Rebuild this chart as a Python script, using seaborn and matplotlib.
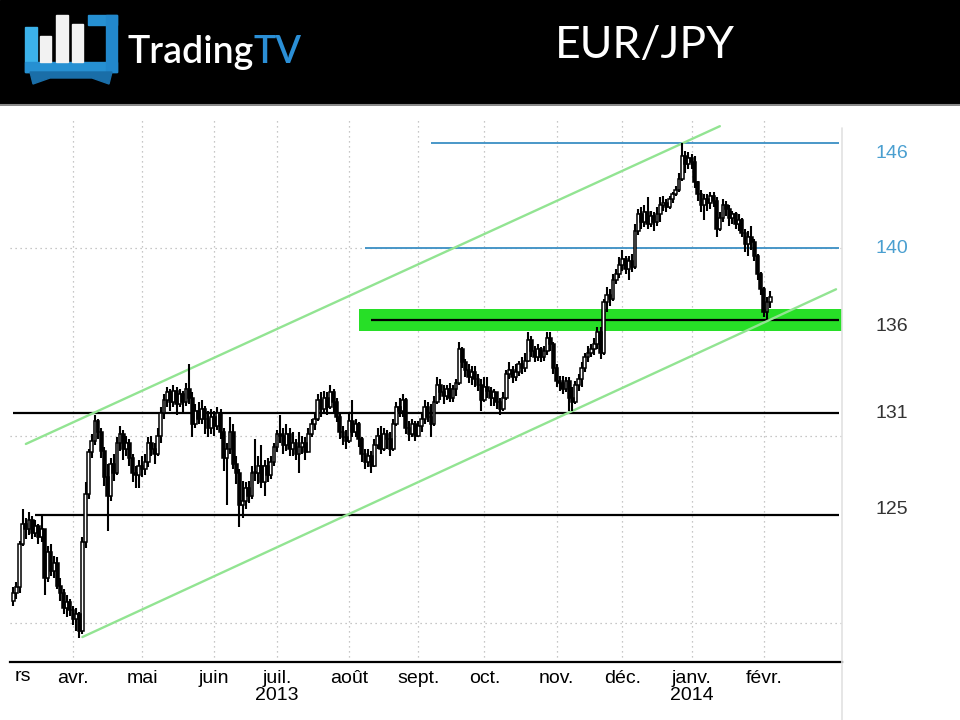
import numpy as np
import pandas as pd
import matplotlib
matplotlib.use("Agg")
import matplotlib.pyplot as plt
from matplotlib.patches import Rectangle, Polygon
from matplotlib.lines import Line2D
import seaborn as sns

# daily EUR/JPY bars, one per weekday, 5 Mar 2013 .. 5 Feb 2014
dates = pd.bdate_range("2013-03-05", "2014-02-05")
first_open = 121.2

closes = [
    121.6, 121.9, 124.2, 125.3, 125.0, 125.5, 124.8, 125.2, 124.6, 125.0, 122.4, 123.8,
    122.8, 123.2, 122.0, 121.6, 120.8, 121.1, 120.7, 120.2, 120.5, 119.6, 124.3, 126.9,
    129.1, 129.7, 130.8, 130.2, 129.2, 127.8, 126.8, 128.5, 128.0, 129.6, 130.1, 129.3,
    129.6, 128.8, 128.0, 127.9, 128.4, 128.2, 128.6, 129.6, 129.3, 129.0, 130.0, 131.2,
    131.9, 132.3, 131.8, 132.4, 131.7, 132.2, 131.8, 132.5, 132.0, 130.6, 131.3, 130.9,
    131.4, 130.9, 130.4, 131.0, 130.5, 131.2, 130.2, 128.8, 129.3, 130.2, 128.5, 128.0,
    126.3, 126.5, 127.2, 126.8, 128.0, 128.0, 128.4, 127.5, 128.4, 127.9, 128.6, 129.4,
    130.1, 130.0, 129.5, 130.1, 129.3, 129.6, 129.0, 129.4, 129.6, 129.1, 130.1, 130.6,
    130.9, 131.9, 131.4, 132.0, 131.5, 132.3, 131.8, 131.0, 130.2, 129.9, 129.7, 130.8,
    130.2, 130.6, 129.8, 129.0, 128.6, 128.9, 128.4, 129.5, 130.0, 129.3, 130.1, 129.8,
    129.3, 130.6, 131.5, 131.3, 131.9, 130.4, 130.1, 130.6, 130.0, 130.5, 130.9, 131.5,
    131.0, 130.6, 131.8, 132.7, 132.3, 132.1, 132.5, 132.0, 132.5, 132.8, 134.6, 133.9,
    133.5, 133.1, 133.4, 133.0, 132.7, 131.9, 132.6, 132.4, 132.0, 132.3, 131.8, 131.4,
    132.0, 133.3, 133.5, 133.1, 133.4, 133.8, 133.6, 134.0, 135.1, 134.5, 134.2, 134.6,
    134.2, 134.5, 135.2, 134.9, 133.6, 132.9, 132.8, 132.5, 132.9, 132.0, 131.8, 132.7,
    133.0, 133.6, 134.2, 134.4, 134.6, 134.9, 135.5, 134.4, 137.1, 137.5, 137.3, 138.3,
    138.6, 139.1, 139.4, 138.9, 139.3, 139.0, 140.9, 141.8, 141.4, 141.9, 141.3, 141.7,
    141.4, 141.8, 142.3, 142.4, 142.2, 142.6, 142.9, 143.1, 143.7, 144.9, 144.5, 144.8,
    144.6, 143.5, 142.9, 142.3, 142.6, 142.4, 142.8, 142.5, 141.0, 141.6, 142.3, 142.1,
    141.6, 141.8, 141.3, 141.5, 140.8, 140.2, 140.6, 140.3, 139.6, 138.6, 137.8, 136.6,
    137.1, 137.4,
]
highs = [
    121.9, 122.2, 124.4, 126.1, 125.6, 125.9, 125.7, 125.5, 125.3, 125.8, 124.5, 124.1,
    124.2, 123.6, 123.5, 122.4, 121.8, 121.5, 121.3, 120.9, 120.8, 120.6, 124.6, 127.5,
    129.3, 130.1, 131.1, 130.9, 130.4, 129.4, 128.5, 128.8, 129.0, 129.9, 130.5, 130.3,
    130.0, 129.8, 129.0, 128.4, 128.7, 128.9, 129.0, 129.9, 130.0, 129.6, 130.4, 131.5,
    132.2, 132.6, 132.5, 132.7, 132.6, 132.5, 132.4, 132.8, 133.8, 132.3, 131.7, 131.8,
    131.9, 131.6, 131.3, 131.4, 131.3, 131.5, 131.4, 130.4, 129.6, 131.0, 130.6, 128.9,
    128.2, 127.6, 127.5, 127.6, 128.4, 129.8, 128.9, 129.5, 128.7, 128.8, 128.9, 129.6,
    130.3, 131.1, 130.4, 130.6, 130.4, 130.2, 129.8, 130.2, 130.0, 129.9, 130.4, 130.9,
    131.2, 132.2, 132.3, 132.4, 132.3, 132.7, 132.5, 132.0, 131.2, 130.5, 130.3, 131.2,
    131.9, 130.9, 130.7, 129.9, 129.3, 129.3, 129.2, 129.8, 130.4, 130.5, 130.4, 130.3,
    130.2, 130.9, 131.8, 132.0, 132.2, 132.0, 130.8, 130.9, 130.8, 130.8, 131.2, 131.9,
    131.8, 131.7, 132.1, 133.1, 133.0, 132.7, 132.7, 132.8, 132.7, 133.0, 135.0, 134.7,
    134.1, 133.8, 133.7, 133.7, 133.3, 133.0, 133.1, 133.1, 132.6, 132.5, 132.3, 132.0,
    132.3, 133.5, 133.9, 133.7, 133.8, 134.0, 134.2, 134.4, 135.5, 135.3, 134.8, 134.9,
    134.7, 134.8, 135.5, 135.5, 135.0, 133.8, 133.2, 133.2, 133.1, 133.1, 132.6, 132.9,
    133.3, 133.9, 134.4, 134.8, 134.9, 135.2, 135.8, 135.8, 137.3, 137.9, 137.8, 138.6,
    138.9, 139.5, 139.9, 139.6, 139.6, 139.7, 141.3, 142.1, 142.2, 142.3, 142.7, 142.0,
    141.9, 142.2, 142.7, 142.8, 142.6, 142.8, 143.0, 143.3, 144.0, 145.6, 145.2, 145.1,
    145.0, 144.9, 143.6, 143.1, 142.9, 142.9, 143.0, 143.0, 142.7, 141.9, 142.6, 142.5,
    142.3, 142.0, 141.9, 141.8, 141.6, 141.0, 140.9, 141.2, 140.5, 139.7, 138.7, 137.9,
    137.4, 137.7,
]
lows = [
    120.9, 121.3, 121.6, 124.1, 124.5, 124.7, 124.5, 124.6, 124.2, 124.3, 121.5, 122.2,
    122.5, 122.4, 121.8, 121.2, 120.5, 120.3, 120.4, 119.9, 119.6, 119.2, 119.4, 124.0,
    126.6, 128.8, 129.5, 129.8, 128.8, 127.3, 124.9, 126.5, 127.6, 127.9, 129.2, 128.7,
    128.9, 128.4, 127.5, 127.2, 127.2, 127.8, 127.9, 128.3, 128.9, 128.5, 128.9, 129.6,
    130.9, 131.5, 131.3, 131.5, 131.1, 131.5, 131.2, 131.6, 131.7, 129.9, 130.4, 130.6,
    130.6, 130.1, 129.9, 130.1, 130.0, 130.3, 129.8, 128.1, 126.3, 129.0, 128.2, 127.4,
    125.1, 125.6, 126.1, 126.4, 126.6, 127.6, 127.4, 127.2, 126.8, 127.5, 127.7, 128.4,
    129.1, 129.6, 129.0, 129.2, 128.9, 128.9, 128.7, 128.0, 129.0, 128.7, 129.2, 129.9,
    130.3, 130.8, 131.0, 131.2, 131.1, 131.4, 131.2, 130.7, 129.8, 129.5, 129.3, 129.6,
    129.9, 129.9, 129.4, 128.6, 128.2, 128.3, 128.0, 128.3, 129.3, 129.0, 129.2, 129.3,
    128.9, 129.2, 130.5, 131.0, 131.0, 130.1, 129.7, 129.9, 129.7, 129.9, 130.2, 130.6,
    130.7, 129.9, 130.5, 131.7, 131.9, 131.7, 131.9, 131.8, 131.8, 132.1, 132.7, 133.6,
    133.1, 132.8, 132.7, 132.6, 132.4, 131.3, 131.8, 132.0, 131.6, 131.6, 131.4, 131.1,
    131.3, 131.9, 133.0, 132.8, 132.9, 133.2, 133.3, 133.4, 133.9, 134.2, 133.9, 134.0,
    133.9, 134.0, 134.3, 134.5, 133.3, 132.6, 132.4, 132.2, 132.3, 131.3, 131.3, 131.7,
    132.4, 132.6, 133.4, 133.9, 134.2, 134.3, 134.6, 134.1, 134.3, 136.6, 136.9, 137.2,
    138.1, 138.4, 138.8, 138.6, 138.3, 138.7, 138.9, 140.7, 141.0, 141.1, 141.0, 141.1,
    140.9, 141.2, 141.4, 142.0, 141.9, 142.1, 142.4, 142.8, 143.0, 143.6, 144.0, 144.2,
    144.2, 143.2, 142.5, 141.9, 141.5, 142.0, 142.1, 142.2, 140.6, 140.9, 141.4, 141.7,
    141.2, 141.3, 141.0, 140.9, 140.6, 139.8, 139.6, 139.9, 139.3, 138.3, 137.5, 136.3,
    136.2, 136.8,
]

# support / resistance levels drawn on the chart
level_values = [145.6, 140.0, 136.15, 131.2, 125.75]
level_labels = ["146", "140", "136", "131", "125"]
level_start = ["2013-09-06", "2013-08-08", "2013-08-12", "2013-03-05", "2013-03-14"]
level_end = "2014-03-07"
zone_low, zone_high = 135.55, 136.75
zone_dates = ["2013-08-06", "2014-03-10"]

# trend channel (date, price) end points
upper_channel = (["2013-03-11", "2014-01-14"], [129.55, 146.5])
lower_channel = (["2013-04-04", "2014-03-06"], [119.25, 137.8])

# "mars" is cut by the left edge in the source, only "rs" shows
months = ["rs", "avr.", "mai", "juin", "juil.", "août", "sept.", "oct.",
          "nov.", "déc.", "janv.", "févr."]
years = {"juil.": "2013", "janv.": "2014"}
month_starts = pd.date_range("2013-03-01", periods=12, freq="MS")


def bar_pos(d):
    # position on the weekday axis
    return np.busday_count(dates[0].date(), pd.Timestamp(d).date())


closes = np.array(closes)
opens = np.concatenate([[first_open], closes[:-1]])
highs = np.maximum(np.array(highs), np.maximum(opens, closes))
lows = np.minimum(np.array(lows), np.minimum(opens, closes))
x = np.arange(len(dates))

sns.set_theme(style="white")
plt.rcParams["font.family"] = ["Liberation Sans", "DejaVu Sans"]

fig = plt.figure(figsize=(9.6, 7.2), dpi=100)
fig.patch.set_facecolor("white")

# header band with logo and title
hd = fig.add_axes([0, 1 - 106 / 720, 1, 106 / 720])
hd.set_facecolor("black")
hd.set_xlim(0, 960)
hd.set_ylim(106, 0)
hd.axis("off")
hd.add_patch(Rectangle((0, 0), 960, 106, color="black"))
hd.axhline(105, color="#8a8a8a", lw=1.5)
hd.add_patch(Rectangle((25, 27), 12, 45, color="#3cb2ea"))
hd.add_patch(Rectangle((25, 62), 92, 10, color="#2690d2"))
hd.add_patch(Rectangle((88, 15), 29, 10, color="#2690d2"))
hd.add_patch(Rectangle((106, 15), 11, 57, color="#2288cc"))
hd.add_patch(Polygon([(30, 72), (112, 72), (109, 84), (92, 78), (50, 78), (33, 84)],
                     closed=True, color="#1a6ea8"))
for bx, top, w in [(40, 36, 11), (56, 15, 12), (72, 24, 11)]:
    hd.add_patch(Rectangle((bx, top), w, 62 - top, color="#f2f2f2"))
t1 = hd.text(127, 63, "Trading", color="white", fontsize=27, fontweight="semibold",
             family=["Lato", "DejaVu Sans"], ha="left", va="baseline")
hd.annotate("TV", xy=(1, 0), xycoords=t1, color="#2b8fd6", fontsize=27,
            fontweight="semibold", family=["Lato", "DejaVu Sans"], ha="left", va="bottom")
hd.text(645, 46, "EUR/JPY", color="white", fontsize=32, fontweight="normal",
        family=["Lato", "DejaVu Sans"], ha="center", va="center")

# price chart
ax = fig.add_axes([10 / 960, 1 - 662 / 720, 832 / 960, 542 / 720])
ax.set_facecolor("white")

month_pos = [bar_pos(d) for d in month_starts]
ax.set_xticks(month_pos[1:])
ax.set_xticklabels([m + ("\n" + years[m] if m in years else "") for m in months[1:]])
ax.set_yticks([120, 130, 140])
ax.set_yticklabels([])
ax.grid(True, linestyle=(0, (1, 3)), color="#b5b5b5", lw=0.9)
ax.tick_params(axis="x", length=0, pad=6, labelsize=14, colors="black")
ax.tick_params(axis="y", length=0)
for lbl in ax.get_xticklabels():
    lbl.set_linespacing(0.95)
ax.annotate(months[0], xy=(0, 0), xycoords="axes fraction", xytext=(5, -6),
            textcoords="offset pixels", ha="left", va="top", fontsize=14, color="black")

# resistance zone and levels
z0, z1 = bar_pos(zone_dates[0]), bar_pos(zone_dates[1])
ax.fill_between([z0, z1], zone_low, zone_high, color="#27df27", lw=0, clip_on=False, zorder=1)
level_colors = ["#3a8fc4", "#3a8fc4", "black", "black", "black"]
level_widths = [1.3, 1.3, 1.6, 1.6, 1.6]
label_colors = ["#4a9fd0", "#4a9fd0", "#333333", "#333333", "#333333"]
label_offsets = [-10, 0, -6, 0, 6]
for val, lab, start, c, w, lc, off in zip(level_values, level_labels, level_start,
                                         level_colors, level_widths, label_colors,
                                         label_offsets):
    ax.hlines(val, bar_pos(start), bar_pos(level_end), color=c, lw=w, zorder=2)
    ax.annotate(lab, xy=(1, val), xycoords=ax.get_yaxis_transform(), xytext=(50, off),
                textcoords="offset pixels", ha="center", va="center", fontsize=14,
                color=lc, annotation_clip=False)

# trend channel
for dts, prices in [upper_channel, lower_channel]:
    sns.lineplot(x=[bar_pos(d) for d in dts], y=prices, color="#92e492", lw=1.7,
                 ax=ax, zorder=2)

# candles
up = closes >= opens
ax.vlines(x, lows, highs, color="black", lw=1.5, zorder=3)
body_bottom = np.minimum(opens, closes)
body_height = np.maximum(np.abs(closes - opens), 0.08)
ax.bar(x[up], body_height[up], bottom=body_bottom[up], width=0.9, color="white",
       edgecolor="black", lw=1.1, zorder=4)
ax.bar(x[~up], body_height[~up], bottom=body_bottom[~up], width=0.9, color="black",
       edgecolor="black", lw=1.1, zorder=4)

ax.set_xlim(-1.05, 263.9)
ax.set_ylim(117.92, 146.83)
for side in ["left", "top", "right"]:
    ax.spines[side].set_visible(False)
ax.spines["bottom"].set_color("black")
ax.spines["bottom"].set_linewidth(1.6)
ax.set_xlabel("")
ax.set_ylabel("")

# light frame line on the right of the chart
fig.add_artist(Line2D([842 / 960, 842 / 960], [0, 1 - 128 / 720], color="#e2e2e2", lw=1.2))

fig.savefig("out.png", dpi=100)
